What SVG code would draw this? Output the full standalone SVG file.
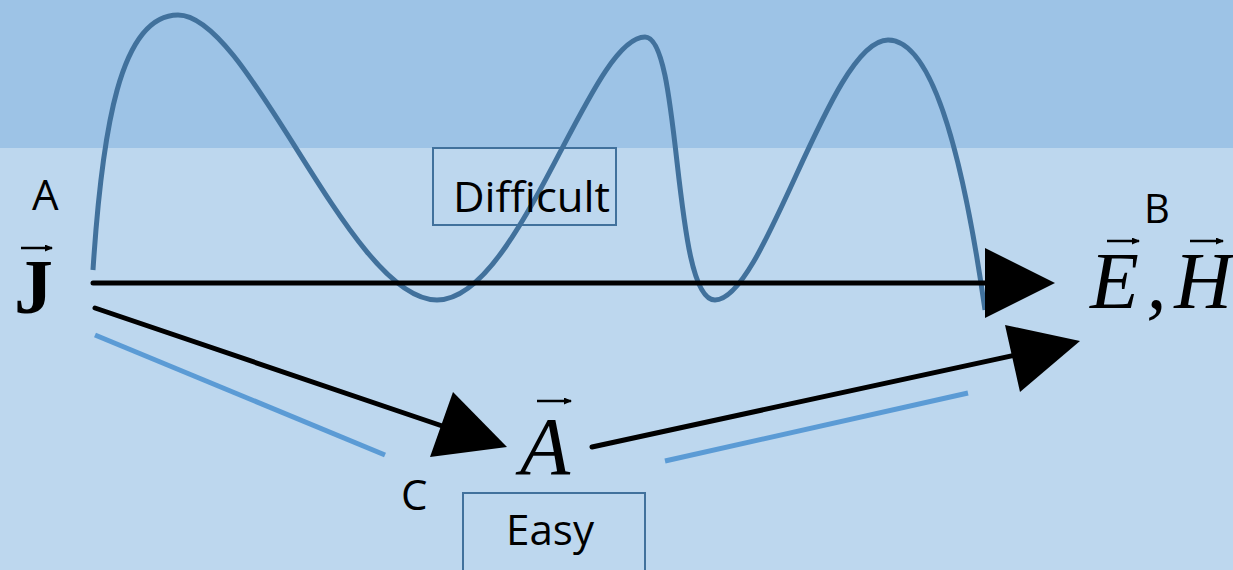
<svg xmlns="http://www.w3.org/2000/svg" width="1233" height="570" viewBox="0 0 1233 570">
<style>
.lbl{font-family:"Open Sans","Liberation Sans",sans-serif;fill:#000}
.math{font-family:"Liberation Serif","DejaVu Serif",serif;fill:#000}
.box{fill:none;stroke:#41719C;stroke-width:2}
.blk{stroke:#000;stroke-width:5;fill:none;stroke-linecap:round}
.lt{stroke:#5B9BD5;stroke-width:5;fill:none}
.vec{stroke:#000;stroke-width:2.5;fill:none}
</style>
<defs>
<marker id="vh" markerWidth="8" markerHeight="7" refX="7" refY="3.5" orient="auto" markerUnits="userSpaceOnUse"><path d="M0,0 L8,3.5 L0,7 Z" fill="#000"/></marker>
</defs>
<rect x="0" y="0" width="1233" height="148" fill="#9DC3E6"/>
<rect x="0" y="148" width="1233" height="422" fill="#BDD7EE"/>

<g id="wave">
<path d="M93,270 C102,130 120,15 178,15 C250,15 350,300 437,300 C520,300 590,37 645,37 C682,37 672,300 715,300 C765,300 830,40 888,40 C935,40 965,170 985,310" fill="none" stroke="#41719C" stroke-width="5"/>
</g>

<g id="connectors">
<line class="blk" x1="93" y1="283" x2="990" y2="283"/>
<polygon points="1055,283 985,248 985,318" fill="#000"/>
<line class="blk" x1="95" y1="308" x2="460" y2="432"/>
<polygon points="507,447 453,392 430,457" fill="#000"/>
<line class="blk" x1="592" y1="447" x2="1020" y2="354"/>
<polygon points="1080,341 1005,325 1020,392" fill="#000"/>
<line class="lt" x1="95" y1="335" x2="385" y2="455"/>
<line class="lt" x1="665" y1="461" x2="968" y2="393"/>
</g>

<g id="nodeJ">
<text class="lbl" x="32" y="210" font-size="42">A</text>
<line class="vec" x1="21" y1="248" x2="52" y2="248" marker-end="url(#vh)"/>
<text class="math" x="14" y="313" font-size="78" font-weight="bold">J</text>
</g>

<g id="nodeEH">
<text class="lbl" x="1144" y="223" font-size="40">B</text>
<line class="vec" x1="1107" y1="241" x2="1139" y2="241" marker-end="url(#vh)"/>
<line class="vec" x1="1190" y1="241" x2="1223" y2="241" marker-end="url(#vh)"/>
<text class="math" x="1090" y="308" font-size="80" font-style="italic" textLength="142" lengthAdjust="spacing">E,H</text>
</g>

<g id="nodeA">
<text class="lbl" x="401" y="510" font-size="42">C</text>
<line class="vec" x1="537" y1="401" x2="571" y2="401" marker-end="url(#vh)"/>
<text class="math" x="520" y="474" font-size="82" font-style="italic">A</text>
</g>

<g id="difficult">
<rect class="box" x="433" y="148" width="183" height="77"/>
<text class="lbl" x="453" y="212" font-size="42" textLength="157" lengthAdjust="spacingAndGlyphs">Difficult</text>
</g>

<g id="easy">
<rect class="box" x="463" y="493" width="182" height="82"/>
<text class="lbl" x="506" y="545" font-size="42" textLength="88" lengthAdjust="spacingAndGlyphs">Easy</text>
</g>
</svg>
